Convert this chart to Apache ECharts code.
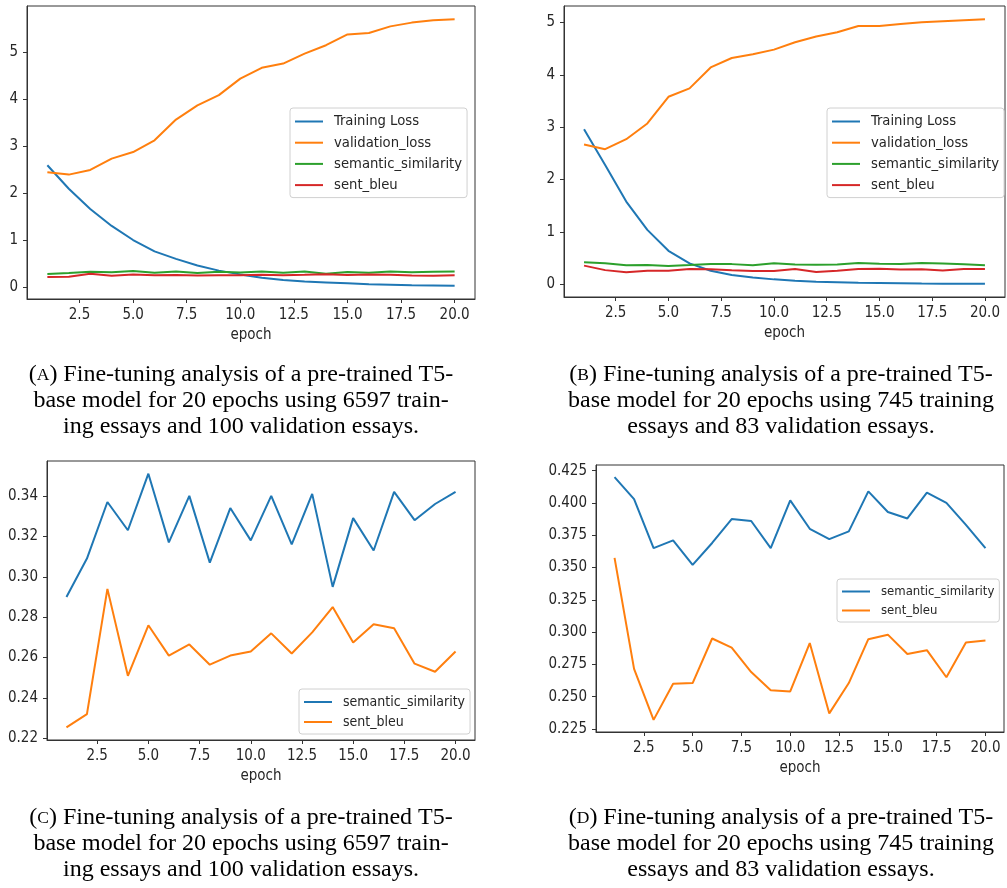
<!DOCTYPE html>
<html>
<head>
<meta charset="utf-8">
<script src="https://cdn.jsdelivr.net/npm/echarts@6/dist/echarts.min.js"></script>
<style>
  html, body { margin: 0; padding: 0; background: #fff; }
  #main { width: 1007px; height: 888px; }
</style>
</head>
<body>
<div id="main"></div>
<script>
  // ---- data ----
  var epochs = [1, 2, 3, 4, 5, 6, 7, 8, 9, 10, 11, 12, 13, 14, 15, 16, 17, 18, 19, 20]

  // run with 6597 training essays (panels A and C)
  var trainLossA = [2.60, 2.10, 1.67, 1.31, 1.01, 0.77, 0.61, 0.47, 0.36, 0.28, 0.21, 0.16, 0.13, 0.11, 0.09, 0.07, 0.06, 0.05, 0.045, 0.04]
  var valLossA = [2.45, 2.40, 2.50, 2.74, 2.88, 3.13, 3.57, 3.87, 4.09, 4.44, 4.67, 4.76, 4.97, 5.15, 5.38, 5.41, 5.55, 5.63, 5.68, 5.70]
  var semSimA = [0.290, 0.309, 0.337, 0.323, 0.351, 0.317, 0.340, 0.307, 0.334, 0.318, 0.340, 0.316, 0.341, 0.295, 0.329, 0.313, 0.342, 0.328, 0.336, 0.342]
  var bleuA = [0.2255, 0.232, 0.294, 0.251, 0.276, 0.261, 0.2665, 0.2565, 0.261, 0.263, 0.272, 0.262, 0.2725, 0.285, 0.2675, 0.2765, 0.2745, 0.257, 0.253, 0.263]

  // run with 745 training essays (panels B and D)
  var trainLossB = [2.96, 2.28, 1.58, 1.04, 0.64, 0.40, 0.26, 0.18, 0.13, 0.095, 0.07, 0.05, 0.04, 0.03, 0.025, 0.02, 0.015, 0.013, 0.012, 0.011]
  var valLossB = [2.67, 2.58, 2.77, 3.07, 3.58, 3.74, 4.14, 4.32, 4.39, 4.48, 4.62, 4.73, 4.81, 4.93, 4.93, 4.97, 5.00, 5.02, 5.04, 5.06]
  var semSimB = [0.420, 0.403, 0.365, 0.371, 0.352, 0.369, 0.3875, 0.386, 0.365, 0.402, 0.380, 0.372, 0.378, 0.409, 0.393, 0.388, 0.408, 0.400, 0.383, 0.365]
  var bleuB = [0.3575, 0.2715, 0.232, 0.260, 0.2605, 0.295, 0.288, 0.269, 0.255, 0.254, 0.2915, 0.237, 0.2605, 0.2945, 0.298, 0.283, 0.286, 0.265, 0.292, 0.2935]

  // tick labels
  var xTicks = [2.5, 5.0, 7.5, 10.0, 12.5, 15.0, 17.5, 20.0]
  var yTicksLoss = [0, 1, 2, 3, 4, 5]
  var yTicksC = [0.22, 0.24, 0.26, 0.28, 0.30, 0.32, 0.34]
  var yTicksD = [0.225, 0.250, 0.275, 0.300, 0.325, 0.350, 0.375, 0.400, 0.425]

  var captionA = ["(A) Fine-tuning analysis of a pre-trained T5-", "base model for 20 epochs using 6597 train-", "ing essays and 100 validation essays."]
  var captionB = ["(B) Fine-tuning analysis of a pre-trained T5-", "base model for 20 epochs using 745 training", "essays and 83 validation essays."]
  var captionC = ["(C) Fine-tuning analysis of a pre-trained T5-", "base model for 20 epochs using 6597 train-", "ing essays and 100 validation essays."]
  var captionD = ["(D) Fine-tuning analysis of a pre-trained T5-", "base model for 20 epochs using 745 training", "essays and 83 validation essays."]

  var BLUE = "#1f77b4", ORANGE = "#ff7f0e", GREEN = "#2ca02c", RED = "#d62728"
  var FONT = "'DejaVu Sans Condensed', 'DejaVu Sans', sans-serif"
  var SERIF = "'Liberation Serif', 'DejaVu Serif', serif"
  var INK = "#262626"

  var chart

  // matplotlib-style autoscale: data range plus 5% each side
  function padded(arrays) {
    var all = [].concat.apply([], arrays)
    var lo = Math.min.apply(null, all)
    var hi = Math.max.apply(null, all)
    var pad = (hi - lo) * 0.05
    return [lo - pad, hi + pad]
  }

  function initChart() {
    chart = echarts.init(document.getElementById("main"), null, { renderer: "canvas" })

    var panels = [
      {
        key: "a", box: { left: 27, top: 6, width: 448, height: 293 },
        lines: [["Training Loss", trainLossA, BLUE], ["validation_loss", valLossA, ORANGE],
                ["semantic_similarity", semSimA, GREEN], ["sent_bleu", bleuA, RED]],
        yTicks: yTicksLoss, digits: 0, legendAt: { left: 290, top: 108 }, legendFont: 14.7, legendGap: 6.2
      },
      {
        key: "b", box: { left: 564, top: 6, width: 441, height: 291 },
        lines: [["Training Loss", trainLossB, BLUE], ["validation_loss", valLossB, ORANGE],
                ["semantic_similarity", semSimB, GREEN], ["sent_bleu", bleuB, RED]],
        yTicks: yTicksLoss, digits: 0, legendAt: { left: 827, top: 108 }, legendFont: 14.7, legendGap: 6.2
      },
      {
        key: "c", box: { left: 47, top: 461, width: 428, height: 279 },
        lines: [["semantic_similarity", semSimA, BLUE], ["sent_bleu", bleuA, ORANGE]],
        yTicks: yTicksC, digits: 2, legendAt: { left: 299, top: 689 }, legendFont: 14, legendGap: 6
      },
      {
        key: "d", box: { left: 596, top: 465, width: 408, height: 267 },
        lines: [["semantic_similarity", semSimB, BLUE], ["sent_bleu", bleuB, ORANGE]],
        yTicks: yTicksD, digits: 3, legendAt: { left: 837, top: 579 }, legendFont: 13, legendGap: 6
      }
    ]

    var option = { animation: false, backgroundColor: "#fff", grid: [], xAxis: [], yAxis: [], series: [], legend: [], graphic: [] }
    var xRange = padded([epochs])

    panels.forEach(function (p, i) {
      option.grid.push({
        left: p.box.left, top: p.box.top, width: p.box.width, height: p.box.height,
        show: true, borderColor: "#333", borderWidth: 1, backgroundColor: "transparent"
      })

      option.xAxis.push({
        type: "value", gridIndex: i, min: xRange[0], max: xRange[1],
        name: "epoch", nameLocation: "middle", nameGap: 29,
        nameTextStyle: { fontFamily: FONT, fontSize: 15, color: INK },
        axisLine: { show: true, onZero: false, lineStyle: { color: "#333", width: 1 } },
        axisTick: { show: true, length: 4, customValues: xTicks, lineStyle: { color: "#333" } },
        axisLabel: {
          customValues: xTicks, margin: 9, fontFamily: FONT, fontSize: 15, color: INK,
          formatter: function (v) { return v.toFixed(1) }
        },
        splitLine: { show: false }
      })

      var yRange = padded(p.lines.map(function (l) { return l[1] }))
      option.yAxis.push({
        type: "value", gridIndex: i, min: yRange[0], max: yRange[1],
        axisLine: { show: true, onZero: false, lineStyle: { color: "#333", width: 1 } },
        axisTick: { show: true, length: 4, customValues: p.yTicks, lineStyle: { color: "#333" } },
        axisLabel: {
          customValues: p.yTicks, margin: 9, fontFamily: FONT, fontSize: 15, color: INK,
          formatter: function (v) { return v.toFixed(p.digits) }
        },
        splitLine: { show: false }
      })

      var names = []
      p.lines.forEach(function (l) {
        var name = p.key + ":" + l[0]
        names.push(name)
        option.series.push({
          type: "line", name: name, xAxisIndex: i, yAxisIndex: i,
          data: epochs.map(function (e, k) { return [e, l[1][k]] }),
          symbol: "none", color: l[2],
          lineStyle: { width: 2, color: l[2] }
        })
      })

      option.legend.push({
        data: names, orient: "vertical", left: p.legendAt.left, top: p.legendAt.top,
        icon: "rect", itemWidth: 28, itemHeight: 2, itemGap: p.legendGap,
        padding: [6, 5, 5, 5],
        borderColor: "#d0d0d0", borderWidth: 1, borderRadius: 3, backgroundColor: "rgba(255,255,255,0.8)",
        selectedMode: false,
        textStyle: { fontFamily: FONT, fontSize: p.legendFont, color: INK, padding: [0, 0, 0, 6] },
        formatter: function (n) { return n.slice(2) }
      })
    })

    // captions under each panel
    addCaption(option, captionA, 241, 375)
    addCaption(option, captionB, 781, 375)
    addCaption(option, captionC, 241, 818)
    addCaption(option, captionD, 781, 818)

    chart.setOption(option)
  }

  function addCaption(option, lines, cx, y0) {
    lines.forEach(function (line, k) {
      var text = line
      if (k === 0) {
        // small-caps panel letter
        text = "(" + "{sc|" + line.charAt(1) + "}" + line.slice(2)
      }
      option.graphic.push({
        type: "text", x: cx, y: y0 + k * 26,
        style: {
          text: text, textAlign: "center", textVerticalAlign: "middle",
          fontFamily: SERIF, fontSize: 24, fill: "#000",
          rich: { sc: { fontFamily: SERIF, fontSize: 17.5, fill: "#000" } }
        }
      })
    })
  }

  initChart()
</script>
</body>
</html>
